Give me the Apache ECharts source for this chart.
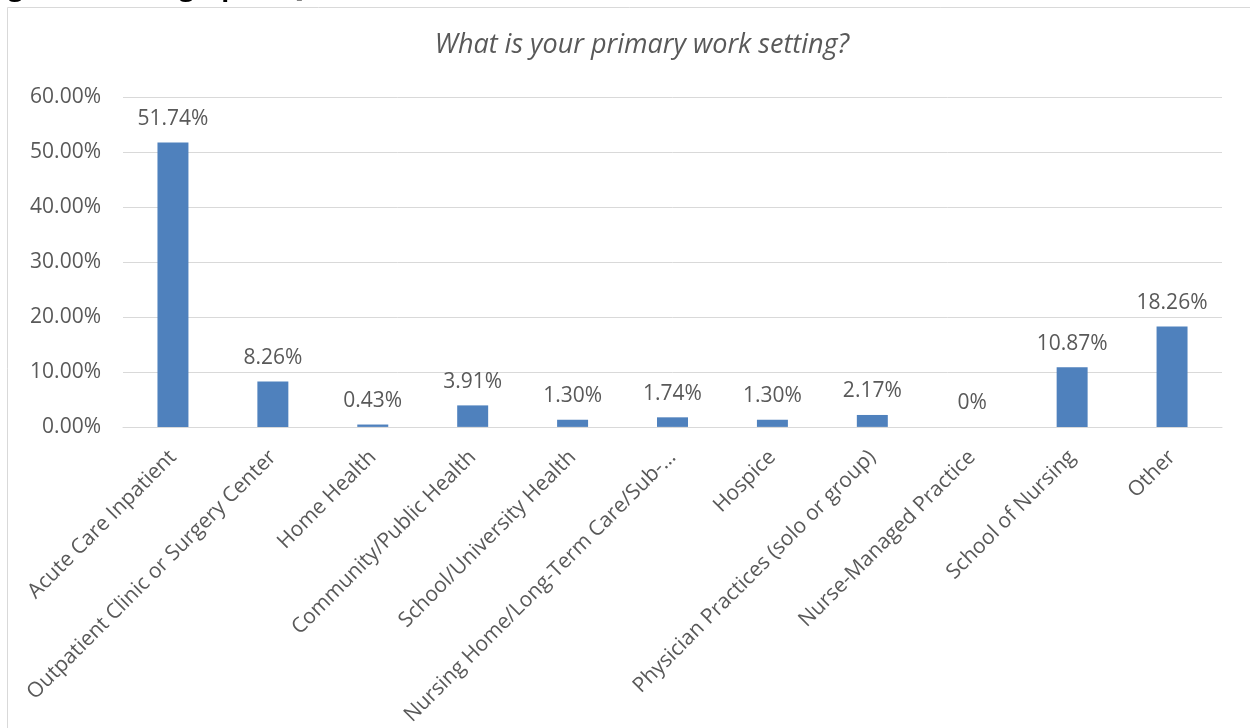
<!DOCTYPE html>
<html>
<head>
<meta charset="utf-8">
<script src="https://cdn.jsdelivr.net/npm/echarts@6/dist/echarts.min.js"></script>
<style>
  html, body { margin: 0; padding: 0; background: #ffffff; }
  #chart { width: 1250px; height: 728px; }
</style>
</head>
<body>
<div id="chart"></div>
<script>
// Survey answers: share of respondents by primary work setting (percent)
const categories = [
  'Acute Care Inpatient',
  'Outpatient Clinic or Surgery Center',
  'Home Health',
  'Community/Public Health',
  'School/University Health',
  'Nursing Home/Long-Term Care/Sub-\u2026',
  'Hospice',
  'Physician Practices (solo or group)',
  'Nurse-Managed Practice',
  'School of Nursing',
  'Other'
];
const shares = [51.74, 8.26, 0.43, 3.91, 1.30, 1.74, 1.30, 2.17, 0, 10.87, 18.26];

const yAxisMin = 0;
const yAxisMax = 60;
const yAxisStep = 10;

const chartTitle = 'What is your primary work setting?';
const captionText = 'Figure 6: Demographic Questions';

const textColor = '#595959';
const gridColor = '#d9d9d9';
const barColor = '#4f81bd';
const font = '"Open Sans", "Liberation Sans", sans-serif';

const chart = echarts.init(document.getElementById('chart'), null, { renderer: 'canvas' });

chart.setOption({
  backgroundColor: '#ffffff',
  animation: false,
  title: {
    text: chartTitle,
    left: 637,
    textAlign: 'center',
    top: 27,
    textStyle: {
      fontFamily: font,
      fontStyle: 'italic',
      fontWeight: 'normal',
      fontSize: 27,
      color: textColor
    }
  },
  graphic: [
    {
      type: 'rect',
      silent: true,
      shape: { x: 7.5, y: 7.5, width: 1270, height: 760 },
      style: { fill: 'none', stroke: gridColor, lineWidth: 1 }
    },
    {
      // document caption sitting just above the chart frame
      type: 'text',
      silent: true,
      x: -14,
      y: 2,
      style: {
        text: captionText,
        fontFamily: font,
        fontWeight: 'bold',
        fontSize: 26,
        fill: '#000000',
        verticalAlign: 'bottom'
      }
    }
  ],
  grid: {
    left: 123,
    right: 28,
    top: 97,
    bottom: 301,
    containLabel: false
  },
  xAxis: {
    type: 'category',
    data: categories,
    axisLine: { show: true, lineStyle: { color: gridColor, width: 1 } },
    axisTick: { show: false },
    axisLabel: {
      interval: 0,
      rotate: 45,
      margin: 27,
      fontFamily: font,
      fontSize: 21,
      color: textColor
    }
  },
  yAxis: {
    type: 'value',
    min: yAxisMin,
    max: yAxisMax,
    interval: yAxisStep,
    axisLine: { show: false },
    axisTick: { show: false },
    splitLine: { lineStyle: { color: gridColor, width: 1 } },
    axisLabel: {
      margin: 22,
      fontFamily: font,
      fontSize: 21,
      color: textColor,
      formatter: (v) => v.toFixed(2) + '%'
    }
  },
  series: [
    {
      type: 'bar',
      data: shares,
      barWidth: '31%',
      itemStyle: { color: barColor },
      label: {
        show: true,
        position: 'top',
        distance: 13,
        fontFamily: font,
        fontSize: 21,
        color: textColor,
        formatter: (p) => (p.value === 0 ? '0%' : p.value.toFixed(2) + '%')
      }
    }
  ]
});
</script>
</body>
</html>
